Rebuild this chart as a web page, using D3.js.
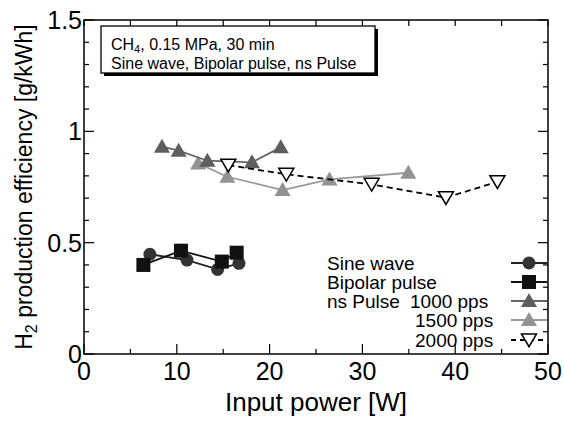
<!DOCTYPE html>
<html><head><meta charset="utf-8">
<script src="https://cdn.jsdelivr.net/npm/d3@7"></script>
<style>body{margin:0;background:#fff;} svg{display:block;} text{font-family:"Liberation Sans",Arial,sans-serif;}</style>
</head><body><div id="chart"></div>
<script>
const sineX = [7.1, 11.1, 14.4, 16.7];
const sineY = [0.448, 0.422, 0.380, 0.407];
const bipolarX = [6.4, 10.45, 14.85, 16.45];
const bipolarY = [0.400, 0.464, 0.415, 0.455];
const ns1000X = [8.4, 10.2, 13.3, 18.1, 21.2];
const ns1000Y = [0.931, 0.913, 0.868, 0.861, 0.928];
const ns1500X = [12.3, 15.45, 21.4, 26.45, 34.95];
const ns1500Y = [0.856, 0.796, 0.736, 0.784, 0.814];
const ns2000X = [15.55, 21.8, 31.0, 39.0, 44.55];
const ns2000Y = [0.848, 0.807, 0.762, 0.702, 0.774];
const xTicks = [0, 10, 20, 30, 40, 50];
const yTicks = [0, 0.5, 1, 1.5];
const yTickLabels = ["0", "0.5", "1", "1.5"];
const legendLabels = ["Sine wave", "Bipolar pulse", "1000 pps", "1500 pps", "2000 pps"];

const W = 564, H = 422;
const L = 84, R = 548, T = 20, B = 354;
const svg = d3.select("#chart").append("svg").attr("width", W).attr("height", H);
const x = d3.scaleLinear().domain([0, 50]).range([L, R]);
const y = d3.scaleLinear().domain([0, 1.5]).range([B, T]);

// frame
svg.append("rect").attr("x", L).attr("y", T).attr("width", R - L).attr("height", B - T)
  .attr("fill", "none").attr("stroke", "#000").attr("stroke-width", 1.5);

// ticks
const g = svg.append("g").attr("stroke", "#000").attr("stroke-width", 1.2);
d3.range(0, 51, 5).forEach(v => {
  const major = v % 10 === 0;
  g.append("line").attr("x1", x(v)).attr("x2", x(v)).attr("y1", B).attr("y2", B - (major ? 10 : 5));
  g.append("line").attr("x1", x(v)).attr("x2", x(v)).attr("y1", T).attr("y2", T + 6);
});
d3.range(0, 16).forEach(i => {
  const v = i / 10;
  const major = i % 5 === 0;
  g.append("line").attr("x1", L).attr("x2", L + (major ? 10 : 5)).attr("y1", y(v)).attr("y2", y(v));
  g.append("line").attr("x1", R).attr("x2", R - (major ? 10 : 5)).attr("y1", y(v)).attr("y2", y(v));
});

// tick labels
svg.append("g").selectAll("text").data(xTicks).join("text")
  .attr("x", d => x(d)).attr("y", 380).attr("text-anchor", "middle")
  .attr("font-size", 25).text(d => d);
svg.append("g").selectAll("text").data(yTicks).join("text")
  .attr("x", 82).attr("y", d => y(d)).attr("dy", "0.36em").attr("text-anchor", "end")
  .attr("font-size", 25).text((d, i) => yTickLabels[i]);

// axis titles
svg.append("text").attr("x", (L + R) / 2).attr("y", 411).attr("text-anchor", "middle")
  .attr("font-size", 26).text("Input power [W]");
const yl = svg.append("text").attr("transform", `translate(32,${(T + B) / 2}) rotate(-90)`)
  .attr("text-anchor", "middle").attr("font-size", 23);
yl.append("tspan").text("H");
yl.append("tspan").attr("font-size", 16).attr("dy", 5).text("2");
yl.append("tspan").attr("dy", -5).text(" production efficiency [g/kWh]");

// annotation box
svg.append("rect").attr("x", 104).attr("y", 29).attr("width", 274).attr("height", 47).attr("fill", "#000");
svg.append("rect").attr("x", 101).attr("y", 26).attr("width", 274).attr("height", 47)
  .attr("fill", "#fff").attr("stroke", "#000").attr("stroke-width", 1.3);
const t1 = svg.append("text").attr("x", 111).attr("y", 50).attr("font-size", 16);
t1.append("tspan").text("CH");
t1.append("tspan").attr("font-size", 11).attr("dy", 3).text("4");
t1.append("tspan").attr("dy", -3).text(", 0.15 MPa, 30 min");
svg.append("text").attr("x", 111).attr("y", 69).attr("font-size", 16).text("Sine wave, Bipolar pulse, ns Pulse");

// marker helpers
function triUp(sel, cx, cy, fill) {
  const s = 8;
  sel.append("path").attr("d", `M${cx},${cy - s}L${cx + s},${cy + s * 0.75}L${cx - s},${cy + s * 0.75}Z`).attr("fill", fill);
}
function triDown(sel, cx, cy) {
  const s = 7.5;
  sel.append("path").attr("d", `M${cx - s},${cy - s * 0.8}L${cx + s},${cy - s * 0.8}L${cx},${cy + s * 0.9}Z`)
    .attr("fill", "#fff").attr("stroke", "#000").attr("stroke-width", 1.5);
}
const line = d3.line();

function series(xs, ys, lineColor, dash, drawMarker) {
  const pts = xs.map((v, i) => [x(v), y(ys[i])]);
  svg.append("path").attr("d", line(pts)).attr("fill", "none").attr("stroke", lineColor)
    .attr("stroke-width", 1.8).attr("stroke-dasharray", dash);
  const mg = svg.append("g");
  pts.forEach(p => drawMarker(mg, p[0], p[1]));
}
const circ = (sel, cx, cy) => sel.append("circle").attr("cx", cx).attr("cy", cy).attr("r", 6.5).attr("fill", "#333");
const sq = (sel, cx, cy) => sel.append("rect").attr("x", cx - 7).attr("y", cy - 7).attr("width", 14).attr("height", 14).attr("fill", "#111");

series(ns1500X, ns1500Y, "#999", null, (s, a, b) => triUp(s, a, b, "#929292"));
series(ns1000X, ns1000Y, "#666", null, (s, a, b) => triUp(s, a, b, "#5e5e5e"));
series(ns2000X, ns2000Y, "#000", "6,4", (s, a, b) => triDown(s, a, b));
series(sineX, sineY, "#222", null, circ);
series(bipolarX, bipolarY, "#111", null, sq);

// legend
const legY = [263, 282, 301, 320, 340];
const legText = svg.append("g").attr("font-size", 19);
legText.append("text").attr("x", 327).attr("y", legY[0] + 7).text(legendLabels[0]);
legText.append("text").attr("x", 327).attr("y", legY[1] + 7).text(legendLabels[1]);
legText.append("text").attr("x", 327).attr("y", legY[2] + 7).text("ns Pulse");
legText.append("text").attr("x", 410).attr("y", legY[2] + 7).text(legendLabels[2]);
legText.append("text").attr("x", 415).attr("y", legY[3] + 7).text(legendLabels[3]);
legText.append("text").attr("x", 415).attr("y", legY[4] + 7).text(legendLabels[4]);
const lx1 = 511, lx2 = 547, lm = 529;
const legStyles = [["#222", null], ["#111", null], ["#666", null], ["#999", null], ["#000", "5,4"]];
legStyles.forEach((s, i) => {
  svg.append("line").attr("x1", lx1).attr("x2", lx2).attr("y1", legY[i]).attr("y2", legY[i])
    .attr("stroke", s[0]).attr("stroke-width", 1.8).attr("stroke-dasharray", s[1]);
});
circ(svg, lm, legY[0]);
sq(svg, lm, legY[1]);
triUp(svg, lm, legY[2], "#5e5e5e");
triUp(svg, lm, legY[3], "#929292");
triDown(svg, lm, legY[4]);
</script></body></html>
